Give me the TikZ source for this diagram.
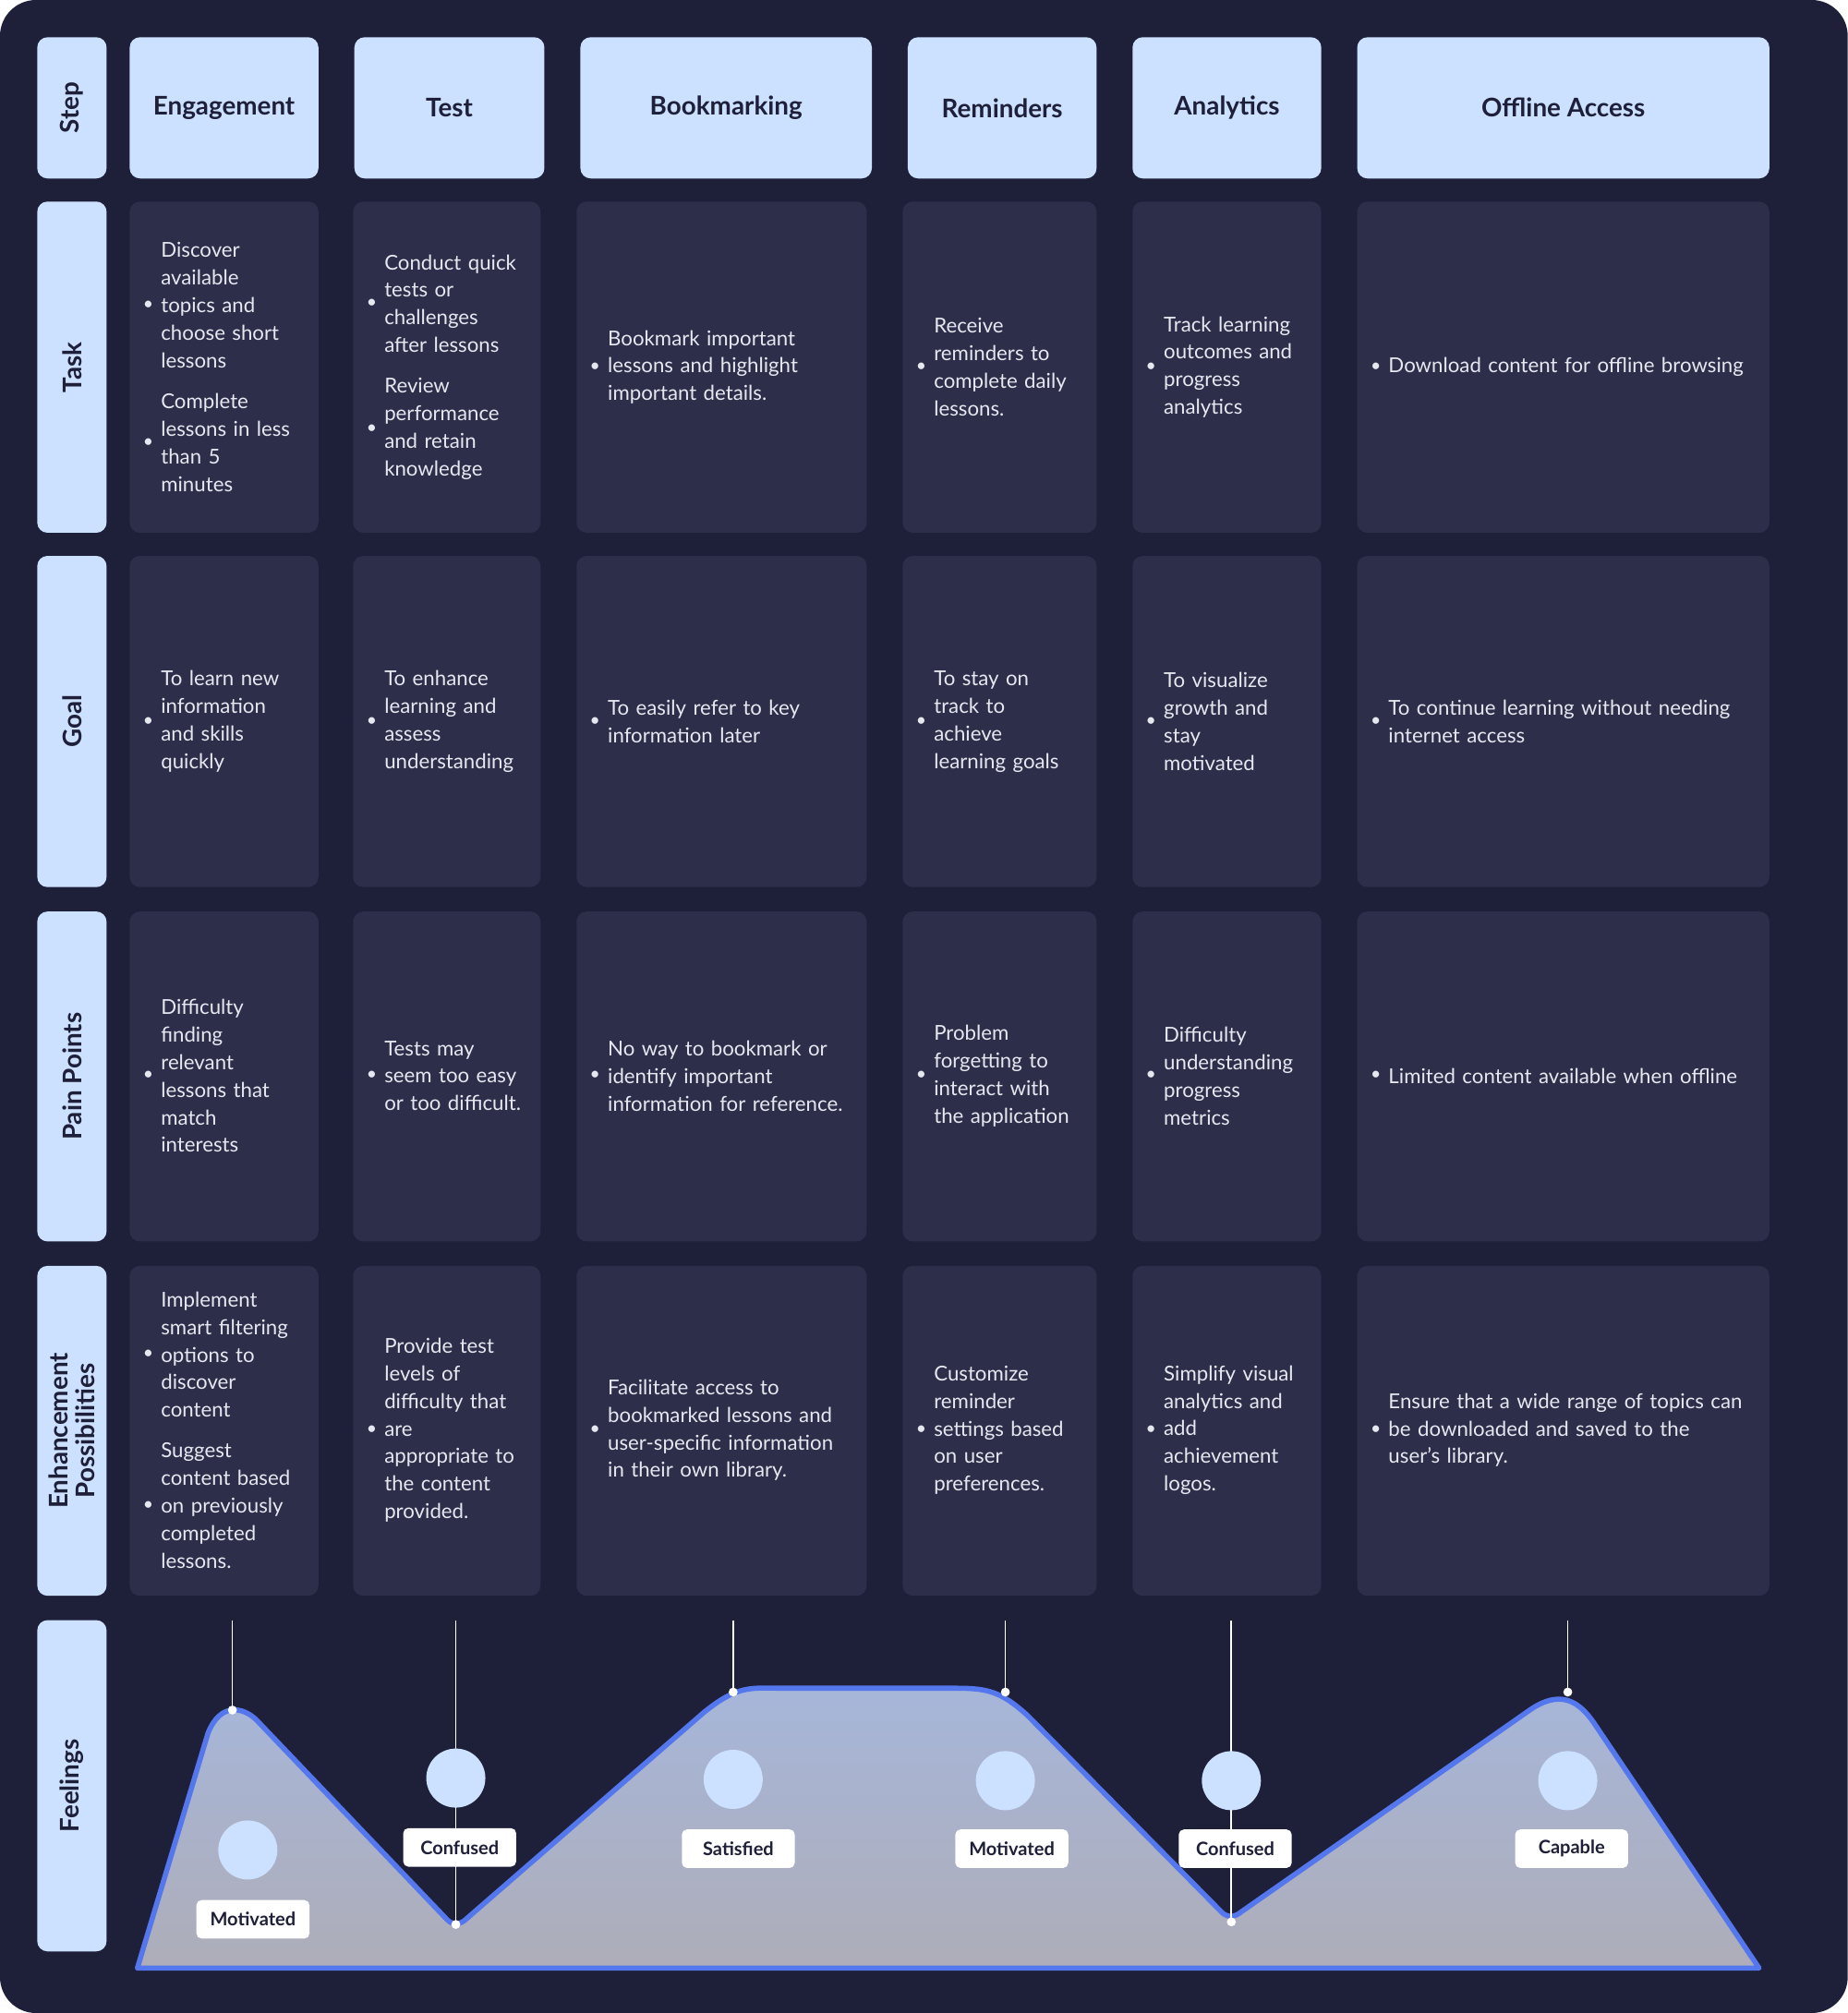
\documentclass[tikz,border=0pt]{standalone}
\usepackage{fontspec}
\setmainfont{Lato}
\definecolor{bgc}{HTML}{1E1F38}
\definecolor{cellc}{HTML}{2D2E4A}
\definecolor{hdc}{HTML}{CCE0FF}
\definecolor{txt}{HTML}{E6E8F0}
\definecolor{mtop}{HTML}{A6B6DA}
\definecolor{mbot}{HTML}{AEADB8}
\definecolor{mline}{HTML}{5577EE}
\newcommand\bi[1]{\hbox{\makebox[7pt][l]{\raisebox{0.3pt}{\scriptsize\textbullet}}\parbox[c]{\dimexpr\hsize-7pt}{\raggedright #1}}}
\newcommand\gap{\par\vspace{9pt}}
\begin{document}
\begin{tikzpicture}[x=0.5pt,y=-0.5pt,
  hd/.style={fill=hdc,rounded corners=4pt,draw=none},
  cl/.style={fill=cellc,rounded corners=4pt,draw=none},
  hdt/.style={font=\fontsize{10}{12}\selectfont\bfseries,text=bgc},
  rowt/.style={font=\fontsize{10}{12}\selectfont\bfseries,text=bgc,rotate=90},
  ct/.style={font=\fontsize{8}{10.75}\selectfont,text=txt,anchor=west,inner sep=0pt,align=left},
  lab/.style={fill=white,rounded corners=2pt,font=\fontsize{7.2}{9}\selectfont\bfseries,text=bgc,minimum width=44pt,minimum height=15pt,inner sep=1pt},
  em/.style={fill=hdc,draw=none},
  dot/.style={fill=white,draw=none}]
\fill[white] (0,0) rectangle (1439,1568);
\fill[bgc,rounded corners=14pt] (0,0) rectangle (1439,1568);
% row label column
\foreach \ya/\yb/\t in {29/139/Step,157/415/Task,433/691/Goal,710/967/Pain Points,1262/1520/Feelings}{
  \fill[hd] (29,\ya) rectangle (83,\yb);
  \node[rowt] (r\t) at (56,{(\ya+\yb)/2}) {\t};}
\fill[hd] (29,986) rectangle (83,1243);
\node[rowt,align=center,font=\fontsize{10}{10.5}\selectfont\bfseries] (rEnh) at (56,1114.5) {Enhancement\\Possibilities};
% headers
\foreach \xa/\xb/\t in {101/248/Engagement,276/424/Test,452/679/Bookmarking,707/854/Reminders,882/1029/Analytics,1057/1378/Offline Access}{
  \fill[hd] (\xa,29) rectangle (\xb,139);
  \node[hdt] (h\xa) at ({(\xa+\xb)/2},84) {\t};}
% cells
\foreach \xa/\xb in {101/248,275/421,449/675,703/854,882/1029,1057/1378}{
  \foreach \ya/\yb in {157/415,433/691,710/967,986/1243}{
    \fill[cl] (\xa,\ya) rectangle (\xb,\yb);}}
% Task row
\node[ct,text width=69pt] (t1) at (111,286) {\bi{Discover\\available\\topics and\\choose short\\lessons}\gap\bi{Complete\\lessons in less\\than 5\\minutes}};
\node[ct,text width=67pt] (t2) at (285,286) {\bi{Conduct quick\\tests or\\challenges\\after lessons}\gap\bi{Review\\performance\\and retain\\knowledge}};
\node[ct,text width=105pt] (t3) at (459,286) {\bi{Bookmark important\\lessons and highlight\\important details.}};
\node[ct,text width=70pt] (t4) at (713,286) {\bi{Receive\\reminders to\\complete daily\\lessons.}};
\node[ct,text width=68pt] (t5) at (892,286) {\bi{Track learning\\outcomes and\\progress\\analytics}};
\node[ct,text width=155pt] (t6) at (1067,286) {\bi{Download content for offline browsing}};
% Goal row
\node[ct,text width=69pt] (g1) at (111,562) {\bi{To learn new\\information\\and skills\\quickly}};
\node[ct,text width=67pt] (g2) at (285,562) {\bi{To enhance\\learning and\\assess\\understanding}};
\node[ct,text width=105pt] (g3) at (459,562) {\bi{To easily refer to key\\information later}};
\node[ct,text width=70pt] (g4) at (713,562) {\bi{To stay on\\track to\\achieve\\learning goals}};
\node[ct,text width=68pt] (g5) at (892,562) {\bi{To visualize\\growth and\\stay\\motivated}};
\node[ct,text width=155pt] (g6) at (1067,562) {\bi{To continue learning without needing\\internet access}};
% Pain row
\node[ct,text width=69pt] (p1) at (111,838) {\bi{Difficulty\\finding\\relevant\\lessons that\\match\\interests}};
\node[ct,text width=67pt] (p2) at (285,838) {\bi{Tests may\\seem too easy\\or too difficult.}};
\node[ct,text width=105pt] (p3) at (459,838) {\bi{No way to bookmark or\\identify important\\information for reference.}};
\node[ct,text width=70pt] (p4) at (713,838) {\bi{Problem\\forgetting to\\interact with\\the application}};
\node[ct,text width=68pt] (p5) at (892,838) {\bi{Difficulty\\understanding\\progress\\metrics}};
\node[ct,text width=155pt] (p6) at (1067,838) {\bi{Limited content available when offline}};
% Enhancement row
\node[ct,text width=69pt] (e1) at (111,1114) {\bi{Implement\\smart filtering\\options to\\discover\\content}\gap\bi{Suggest\\content based\\on previously\\completed\\lessons.}};
\node[ct,text width=67pt] (e2) at (285,1114) {\bi{Provide test\\levels of\\difficulty that\\are\\appropriate to\\the content\\provided.}};
\node[ct,text width=105pt] (e3) at (459,1114) {\bi{Facilitate access to\\bookmarked lessons and\\user-specific information\\in their own library.}};
\node[ct,text width=70pt] (e4) at (713,1114) {\bi{Customize\\reminder\\settings based\\on user\\preferences.}};
\node[ct,text width=68pt] (e5) at (892,1114) {\bi{Simplify visual\\analytics and\\add\\achievement\\logos.}};
\node[ct,text width=155pt] (e6) at (1067,1114) {\bi{Ensure that a wide range of topics can\\be downloaded and saved to the\\user’s library.}};
% Feelings mountain
\draw[mline,line width=2pt,line join=round,top color=mtop,bottom color=mbot]
  (107,1533) -- (162,1350) .. controls (172,1325) and (190,1330) .. (200,1340)
  -- (347,1494) .. controls (352,1500) and (358,1500) .. (364,1494)
  -- (548,1334) .. controls (575,1312) and (585,1315) .. (610,1315)
  -- (745,1315) .. controls (770,1315) and (780,1318) .. (800,1336)
  -- (950,1488) .. controls (955,1494) and (961,1494) .. (967,1489)
  -- (1190,1333) .. controls (1215,1315) and (1230,1325) .. (1242,1343)
  -- (1370,1533) -- cycle;
% stems
\coordinate (s1) at (181,1332); \coordinate (s2) at (355,1499);
\coordinate (s3) at (571,1318); \coordinate (s4) at (783,1318);
\coordinate (s5) at (959,1497); \coordinate (s6) at (1221,1318);
\foreach \i/\x in {1/181,2/355,3/571,4/783,5/959,6/1221}{
  \coordinate (top\i) at (\x,1262);
  \draw[white,line width=0.6pt] (top\i) -- (s\i);
  \fill[dot] (s\i) circle (3.5);}
% emotion circles
\foreach \i/\x/\y in {1/193/1441,2/355/1385,3/571/1386,4/783/1387,5/959/1387,6/1221/1387}{
  \fill[em] (\x,\y) circle (23);}
\node[lab] (l1) at (197,1495) {Motivated};
\node[lab] (l2) at (358,1439) {Confused};
\node[lab] (l3) at (575,1440) {Satisfied};
\node[lab] (l4) at (788,1440) {Motivated};
\node[lab] (l5) at (962,1440) {Confused};
\node[lab] (l6) at (1224,1440) {Capable};
\end{tikzpicture}
\end{document}
